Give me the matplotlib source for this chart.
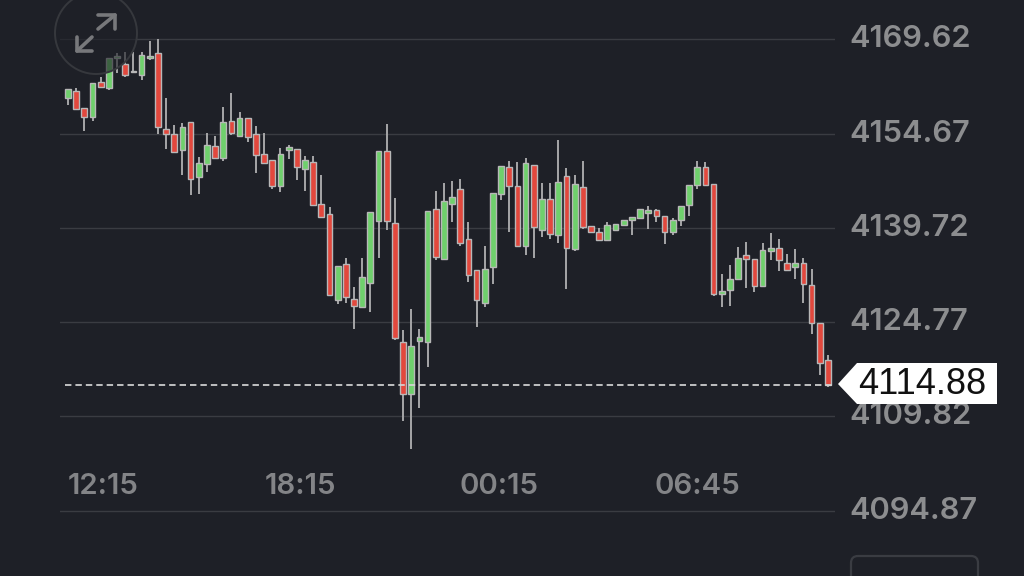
import matplotlib
matplotlib.use("Agg")
import matplotlib.pyplot as plt
from matplotlib.patches import Circle, Polygon, FancyBboxPatch
from matplotlib.transforms import ScaledTranslation

opens = [4160.29,4161.50,4158.71,4157.28,4162.93,4161.97,4166.61,4165.73,4164.62,4163.99,4166.68,4167.43,4155.42,4154.58,4152.09,4156.49,4147.81,4149.92,4152.73,4150.87,4156.69,4154.31,4157.22,4154.68,4151.46,4150.46,4146.43,4152.09,4152.20,4149.03,4150.24,4143.48,4141.94,4128.30,4134.01,4128.46,4127.24,4130.95,4140.88,4151.98,4140.47,4121.68,4113.39,4121.79,4121.59,4142.73,4134.76,4143.53,4145.95,4137.93,4133.01,4127.78,4133.49,4145.07,4149.44,4146.43,4136.87,4149.76,4139.35,4144.27,4138.56,4147.97,4136.44,4146.27,4140.04,4139.13,4137.87,4139.40,4140.15,4141.04,4141.31,4142.05,4142.53,4141.67,4139.04,4141.04,4143.32,4146.57,4149.44,4146.70,4129.30,4129.84,4131.58,4135.44,4134.76,4130.52,4136.12,4136.50,4134.17,4133.58,4134.22,4130.68,4124.70,4118.73]
highs = [4161.77,4161.88,4158.71,4162.67,4163.62,4166.64,4167.40,4167.64,4167.59,4167.59,4169.33,4169.65,4160.39,4156.06,4156.33,4156.49,4151.03,4154.74,4154.36,4158.87,4161.09,4158.07,4157.22,4155.90,4154.84,4150.46,4152.36,4152.89,4152.20,4151.14,4151.14,4148.13,4143.10,4133.74,4134.91,4130.41,4134.91,4142.26,4151.98,4156.17,4144.43,4123.54,4126.87,4123.65,4142.47,4145.64,4146.81,4147.18,4147.44,4140.62,4133.01,4136.91,4145.22,4149.51,4150.35,4150.14,4150.87,4149.76,4146.91,4146.91,4153.68,4149.19,4148.17,4150.40,4140.04,4139.67,4140.62,4140.36,4141.04,4141.51,4142.73,4143.16,4142.69,4141.67,4141.35,4143.21,4146.49,4150.35,4150.14,4146.70,4132.38,4133.85,4136.66,4137.45,4134.76,4137.39,4138.88,4137.93,4135.60,4136.39,4134.91,4133.17,4124.70,4119.58]
lows = [4159.23,4158.60,4155.15,4156.64,4162.04,4161.61,4164.31,4163.67,4164.31,4163.20,4166.37,4154.63,4152.20,4151.82,4148.13,4144.91,4145.11,4148.65,4150.87,4150.40,4154.47,4154.31,4153.41,4148.40,4150.08,4145.91,4145.48,4150.62,4147.33,4145.64,4143.37,4141.51,4129.04,4127.66,4127.87,4123.65,4127.24,4126.44,4134.91,4139.40,4121.95,4109.15,4104.62,4111.22,4117.72,4134.64,4134.76,4140.62,4136.91,4131.15,4124.06,4127.14,4130.84,4144.16,4139.13,4136.87,4135.39,4134.91,4138.34,4137.93,4137.39,4130.04,4136.12,4139.61,4139.09,4137.82,4137.66,4139.40,4140.15,4138.61,4141.31,4139.61,4140.67,4137.13,4138.66,4140.09,4141.62,4145.91,4146.59,4128.93,4127.14,4127.40,4131.58,4130.20,4129.62,4130.52,4134.64,4132.95,4133.11,4131.68,4127.87,4122.86,4116.40,4114.45]
closes = [4161.72,4158.60,4157.33,4162.67,4162.04,4166.64,4167.00,4163.99,4164.39,4167.16,4167.00,4155.79,4154.58,4151.82,4155.69,4147.54,4149.98,4152.84,4150.87,4156.49,4154.84,4157.22,4154.11,4151.30,4150.08,4146.38,4151.46,4152.52,4149.35,4150.51,4143.37,4141.51,4129.04,4133.74,4128.82,4127.35,4132.00,4142.26,4151.98,4140.88,4122.27,4113.34,4121.00,4122.48,4142.47,4135.07,4144.00,4144.69,4137.29,4132.22,4128.30,4133.26,4145.22,4149.51,4146.38,4136.87,4149.98,4139.83,4144.27,4138.82,4146.97,4136.55,4146.70,4139.93,4139.09,4137.82,4140.24,4140.36,4141.04,4141.51,4142.73,4142.53,4141.58,4139.09,4140.99,4143.21,4146.49,4149.44,4146.59,4129.25,4129.68,4131.68,4134.96,4134.85,4130.52,4136.23,4136.50,4134.60,4133.11,4134.22,4130.84,4124.60,4118.35,4114.82]

price_ticks = [4169.62, 4154.67, 4139.72, 4124.77, 4109.82, 4094.87]
price_labels = ["4169.62", "4154.67", "4139.72", "4124.77", "4109.82", "4094.87"]
time_positions = [4.3, 28.4, 52.7, 77.0]
time_labels = ["12:15", "18:15", "00:15", "06:45"]
last_price = 4114.88
last_label = "4114.88"

BG = "#1e2027"
GREEN = "#6fd06c"
RED = "#e2483d"
EDGE = "#b8b8b8"
WICK = "#a6a6a8"
GRID = "#3a3c42"
TICK = "#8c8d8f"
FONT = ["Inter", "DejaVu Sans"]

W, H = 1024, 576
fig = plt.figure(figsize=(W / 100, H / 100), dpi=100, facecolor=BG)
L, R, T, B = 60, 835, 0, 520
ax = fig.add_axes([L / W, 1 - B / H, (R - L) / W, (B - T) / H], facecolor=BG)
ax.set_xlim(-0.98, 93.86)
ax.set_ylim(4093.40, 4175.885)
for s in ax.spines.values():
    s.set_visible(False)

ax.yaxis.tick_right()
ax.set_yticks(price_ticks)
ax.set_yticklabels(price_labels, family=FONT, fontsize=22.2, fontweight="semibold", color=TICK)
ax.tick_params(axis="y", length=0, pad=10.3)
for lab in ax.get_yticklabels():
    lab.set_transform(lab.get_transform() + ScaledTranslation(0, 0.03, fig.dpi_scale_trans))
ax.grid(axis="y", color=GRID, lw=1.0, zorder=0)
ax.set_axisbelow(True)
ax.set_xticks(time_positions)
ax.set_xticklabels(time_labels, family=FONT, fontsize=21.2, fontweight="semibold", color="#838487")
ax.tick_params(axis="x", length=0, pad=-33.7)

x = list(range(len(opens)))
ax.vlines(x, lows, highs, color=WICK, lw=1.4, zorder=2)
colors = [GREEN if c >= o else RED for o, c in zip(opens, closes)]
ax.bar(x, [abs(c - o) for o, c in zip(opens, closes)], bottom=[min(o, c) for o, c in zip(opens, closes)],
       width=0.7, color=colors, edgecolor=EDGE, linewidth=1.0, zorder=3)
ax.hlines(last_price, -0.37, 93.86, color="#d4d4d4", lw=1.25, linestyles=(0, (3.7, 2.3)), zorder=4)

ov = fig.add_axes([0, 0, 1, 1], facecolor="none")
ov.set_xlim(0, W)
ov.set_ylim(H, 0)
ov.axis("off")

ov.add_patch(Circle((96, 33), 41, facecolor=BG, alpha=0.62, edgecolor="none", zorder=1))
ov.add_patch(Circle((96, 33), 41, facecolor="none", edgecolor="#36383d", lw=1.4, zorder=2))
arrow_color = "#77787b"
for pts in ([(98, 29), (115, 15)], [(98, 15), (115, 15), (115, 29)],
            [(92, 37), (77, 51)], [(77, 37), (77, 51), (92, 51)]):
    xs, ys = zip(*pts)
    ov.plot(xs, ys, color=arrow_color, lw=2.6, solid_capstyle="round", zorder=3)

ov.add_patch(Polygon([(838, 384), (857, 363), (997, 363), (997, 404), (857, 404)],
                     closed=True, facecolor="white", edgecolor="none", zorder=5))
ov.text(922, 385, last_label, family=["Liberation Sans", "DejaVu Sans"], fontsize=26, color="#111111",
        ha="center", va="center", zorder=6)
ov.add_patch(FancyBboxPatch((851, 556), 127, 40, boxstyle="round,pad=0,rounding_size=7",
                            facecolor="none", edgecolor="#3a3c42", lw=1.6, zorder=2,
                            mutation_aspect=1))

fig.savefig("out.png", dpi=100, facecolor=BG)
